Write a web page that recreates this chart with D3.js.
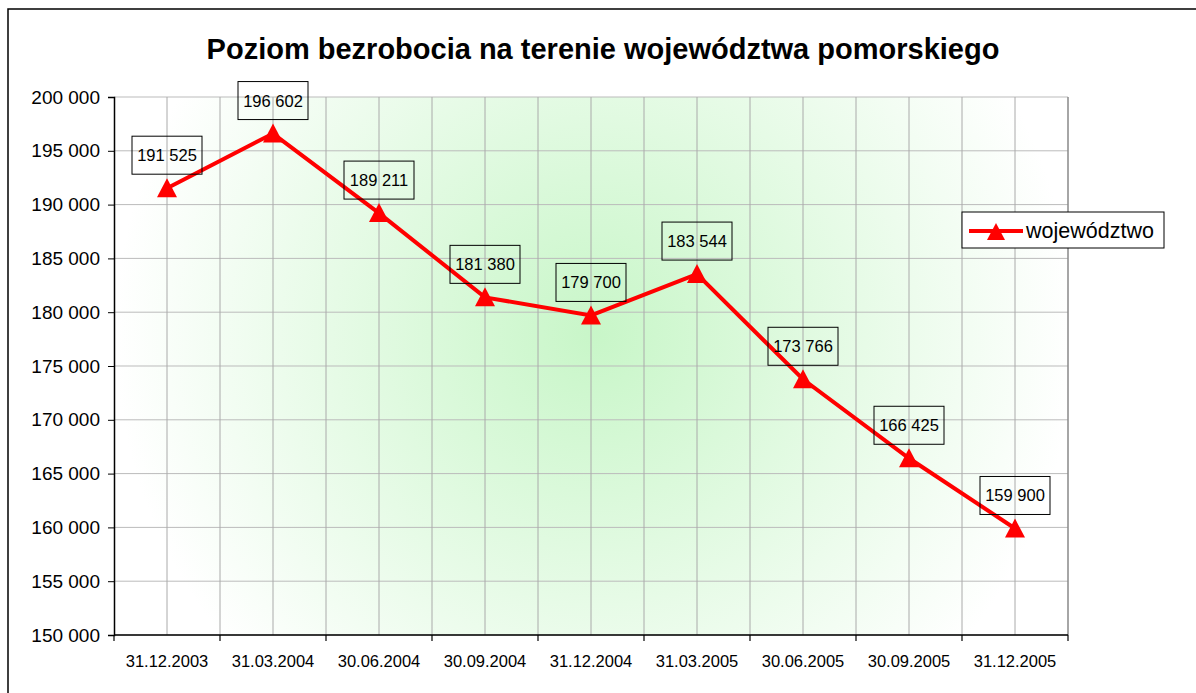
<!DOCTYPE html>
<html lang="pl">
<head>
  <meta charset="UTF-8">
  <title>Poziom bezrobocia</title>
  <style>
    body { margin: 0; background: #fff; }
    text { font-family: "Liberation Sans", Arial, sans-serif; fill: #000; }
  </style>
</head>
<body>
  <div id="app"></div>
  <script src="https://cdn.jsdelivr.net/npm/d3@7"></script>
  <script>
    const dates = ['31.12.2003', '31.03.2004', '30.06.2004', '30.09.2004', '31.12.2004',
                   '31.03.2005', '30.06.2005', '30.09.2005', '31.12.2005']
    const values = [191525, 196602, 189211, 181380, 179700, 183544, 173766, 166425, 159900]
    const yTicks = [150000, 155000, 160000, 165000, 170000, 175000, 180000, 185000, 190000, 195000, 200000]
    const seriesName = 'województwo'

    const W = 1196, H = 693
    const plot = { left: 114, top: 97, right: 1068, bottom: 635 }

    const fmt = v => d3.format(',')(v).replace(/,/g, ' ')

    const svg = d3.select('#app').append('svg')
      .attr('width', W)
      .attr('height', H)

    const defs = svg.append('defs')
    const grad = defs.append('radialGradient')
      .attr('id', 'bg')
      .attr('gradientUnits', 'userSpaceOnUse')
      .attr('cx', 595).attr('cy', 335).attr('r', 480)
    grad.append('stop').attr('offset', '0%').attr('stop-color', '#c8f6c8')
    grad.append('stop').attr('offset', '100%').attr('stop-color', '#ffffff')

    // outer chart border
    svg.append('rect')
      .attr('x', 8).attr('y', 9)
      .attr('width', W + 10).attr('height', H + 10)
      .attr('fill', '#fff')
      .attr('stroke', '#000')
      .attr('stroke-width', 1.5)

    const x = d3.scaleBand().domain(dates).range([plot.left, plot.right])
    const y = d3.scaleLinear().domain([150000, 200000]).range([plot.bottom, plot.top])

    svg.append('rect')
      .attr('x', plot.left).attr('y', plot.top)
      .attr('width', plot.right - plot.left).attr('height', plot.bottom - plot.top)
      .attr('fill', 'url(#bg)')

    // gridlines
    const grid = svg.append('g')
    grid.selectAll('line.h').data(yTicks).enter().append('line')
      .attr('x1', plot.left).attr('x2', plot.right)
      .attr('y1', d => y(d)).attr('y2', d => y(d))
      .attr('stroke', '#bbb').attr('stroke-width', 1)

    const vLines = []
    dates.forEach(d => {
      vLines.push(x(d))
      vLines.push(x(d) + x.bandwidth() / 2)
    })
    grid.selectAll('line.v').data(vLines.slice(1)).enter().append('line')
      .attr('x1', d => d).attr('x2', d => d)
      .attr('y1', plot.top).attr('y2', plot.bottom)
      .attr('stroke', '#aaa').attr('stroke-width', 1)

    // right border of plot
    svg.append('line')
      .attr('x1', plot.right).attr('x2', plot.right)
      .attr('y1', plot.top).attr('y2', plot.bottom)
      .attr('stroke', '#888').attr('stroke-width', 1.5)

    // y axis
    const yAxis = svg.append('g')
      .attr('transform', `translate(${plot.left},0)`)
      .call(d3.axisLeft(y).tickValues(yTicks).tickFormat(fmt).tickSize(6).tickPadding(8))
    yAxis.selectAll('text').style('font-size', '19px')
    yAxis.select('.domain').attr('stroke', '#000').attr('stroke-width', 1.5)

    // x axis with ticks on category boundaries
    const xAxis = svg.append('g')
      .attr('transform', `translate(0,${plot.bottom})`)
    xAxis.append('line')
      .attr('x1', plot.left).attr('x2', plot.right)
      .attr('stroke', '#000').attr('stroke-width', 1.5)
    const bounds = dates.map(d => x(d)).concat([plot.right])
    xAxis.selectAll('line.tick').data(bounds).enter().append('line')
      .attr('x1', d => d).attr('x2', d => d)
      .attr('y1', 0).attr('y2', 6)
      .attr('stroke', '#000').attr('stroke-width', 1.2)
    xAxis.selectAll('text').data(dates).enter().append('text')
      .attr('x', d => x(d) + x.bandwidth() / 2)
      .attr('y', 32)
      .attr('text-anchor', 'middle')
      .style('font-size', '16.5px')
      .text(d => d)

    // line
    const cx = d => x(d) + x.bandwidth() / 2
    const line = d3.line().x((d, i) => cx(dates[i])).y(d => y(d))
    svg.append('path')
      .datum(values)
      .attr('d', line)
      .attr('fill', 'none')
      .attr('stroke', '#ff0000')
      .attr('stroke-width', 4)

    const tri = 'M0,-10L10,9L-10,9Z'
    svg.selectAll('path.marker').data(values).enter().append('path')
      .attr('d', tri)
      .attr('transform', (d, i) => `translate(${cx(dates[i])},${y(d)})`)
      .attr('fill', '#ff0000')

    // data labels
    const lbl = svg.selectAll('g.lbl').data(values).enter().append('g')
      .attr('transform', (d, i) => `translate(${cx(dates[i])},${y(d) - 33})`)
    lbl.append('rect')
      .attr('x', -35).attr('y', -19)
      .attr('width', 70).attr('height', 38)
      .attr('fill', 'none')
      .attr('stroke', '#000')
      .attr('stroke-width', 1)
    lbl.append('text')
      .attr('text-anchor', 'middle')
      .attr('y', 6)
      .style('font-size', '16.5px')
      .text(d => fmt(d))

    // title
    svg.append('text')
      .attr('x', 603).attr('y', 59)
      .attr('text-anchor', 'middle')
      .style('font-size', '29px')
      .style('font-weight', 'bold')
      .text('Poziom bezrobocia na terenie województwa pomorskiego')

    // legend
    const lg = svg.append('g').attr('transform', 'translate(962,212)')
    lg.append('rect')
      .attr('width', 202).attr('height', 36)
      .attr('fill', '#fff')
      .attr('stroke', '#000')
      .attr('stroke-width', 1)
    lg.append('line')
      .attr('x1', 7).attr('x2', 61).attr('y1', 19).attr('y2', 19)
      .attr('stroke', '#ff0000').attr('stroke-width', 4)
    lg.append('path')
      .attr('d', 'M0,-9L9,8L-9,8Z')
      .attr('transform', 'translate(34,20)')
      .attr('fill', '#ff0000')
    lg.append('text')
      .attr('x', 64).attr('y', 26)
      .style('font-size', '21.5px')
      .text(seriesName)
  </script>
</body>
</html>
